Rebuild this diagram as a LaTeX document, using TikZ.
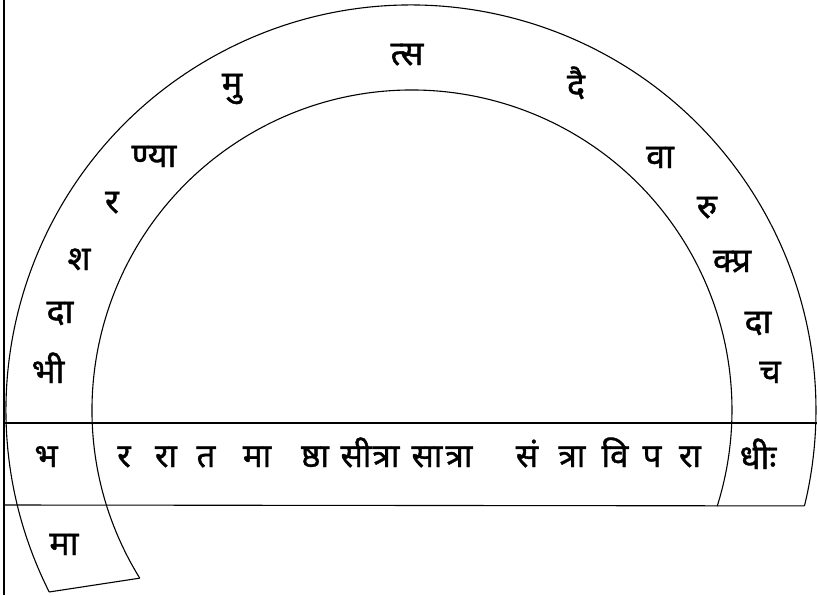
\documentclass[tikz,border=0pt]{standalone}
\usepackage{fontspec}
\usetikzlibrary{calc}
\newfontfamily\deva[Script=Devanagari,FakeBold=1.2]{Noto Sans}
\begin{document}
\begin{tikzpicture}[x=1pt,y=-1pt,line width=1.1pt,
  big/.style={font=\deva\fontsize{34}{36}\selectfont,anchor=base,inner sep=0pt},
  small/.style={font=\deva\fontsize{33}{35}\selectfont,anchor=base,inner sep=0pt}]
\useasboundingbox (0,0) rectangle (817,595);
\fill[white] (0,0) rectangle (817,595);
% centres of the two arcs
\coordinate (oc) at (411,410);
\coordinate (ic) at (412,410);
\coordinate (ol) at ($(oc)+(153.3:405)$);
\coordinate (il) at ($(ic)+(148.3:320)$);
\coordinate (or) at ($(oc)+(13.7:405)$);
\coordinate (tl) at (4,423);
\coordinate (tr) at (817,423);
\coordinate (bl) at (4,505);
\coordinate (fl1) at (4,0);
\coordinate (fl2) at (4,595);
% frame and band
\draw[line width=1.6pt] (fl1) -- (fl2);
\draw (tl) -- (tr);
\draw (bl) -- (or);
% arcs
\draw (ol) arc[start angle=153.3,end angle=373.7,radius=405];
\draw (il) arc[start angle=148.3,end angle=377.5,radius=320];
\draw (ol) -- (il);
% letters on the arc
\node[big] (a1) at (48,383) {भी};
\node[big] (a2) at (60,323) {दा};
\node[big] (a3) at (79,270) {श};
\node[big] (a4) at (112,213) {र};
\node[big] (a5) at (154,167) {ण्या};
\node[big] (a6) at (232,95) {मु};
\node[big] (a7) at (407,65) {त्स};
\node[big] (a8) at (576,97) {दै};
\node[big] (a9) at (660,168) {वा};
\node[big] (a10) at (707,218) {रु};
\node[big] (a11) at (732,272) {क्प्र};
\node[big] (a12) at (758,333) {दा};
\node[big] (a13) at (770,383) {च};
% letters in the band
\node[small] (b1) at (46,467) {भ};
\node[small] (b2) at (124,467) {र};
\node[small] (b3) at (166,467) {रा};
\node[small] (b4) at (206,467) {त};
\node[small] (b5) at (257,467) {मा};
\node[small] (b6) at (315,467) {ष्ठा};
\node[small] (b7) at (356,467) {सी};
\node[small] (b8) at (386,467) {त्रा};
\node[small] (b9) at (427,467) {सा};
\node[small] (b10) at (459,467) {त्रा};
\node[small] (b11) at (527,467) {सं};
\node[small] (b12) at (572,467) {त्रा};
\node[small] (b13) at (615,467) {वि};
\node[small] (b14) at (652,467) {प};
\node[small] (b15) at (690,467) {रा};
\node[big] (b16) at (758,469) {धीः};
% letter in the tab
\node[big] (c1) at (64,555) {मा};
\end{tikzpicture}
\end{document}
